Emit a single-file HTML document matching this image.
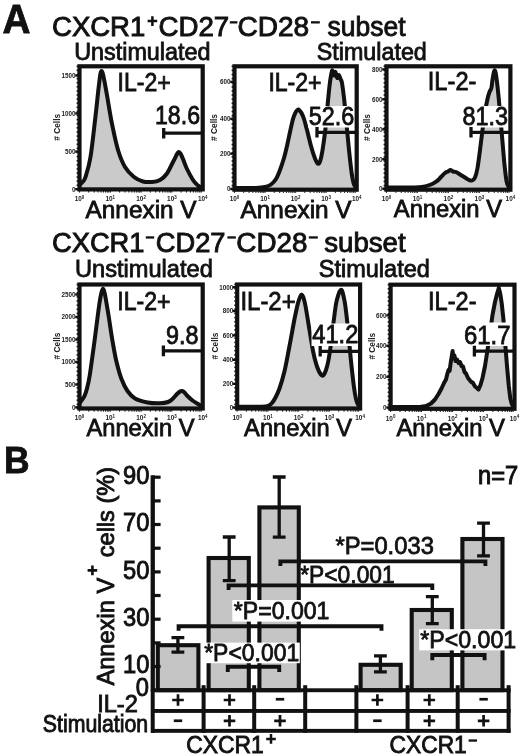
<!DOCTYPE html>
<html><head><meta charset="utf-8"><title>Figure</title>
<style>
html,body{margin:0;padding:0;background:#fff;}
body{width:520px;height:756px;overflow:hidden;}
svg{display:block;will-change:transform;font-family:"Liberation Sans",sans-serif;fill:#111;}
</style></head><body>
<svg width="520" height="756" viewBox="0 0 520 756">
<rect x="0" y="0" width="520" height="756" fill="#fff"/>

<text x="2.6" y="33.2" font-size="40.00" text-anchor="start" font-weight="bold" textLength="28.0" lengthAdjust="spacingAndGlyphs" stroke="#111" stroke-width="0.80" >A</text>
<text x="4.0" y="472.8" font-size="36.50" text-anchor="start" font-weight="bold" textLength="25.6" lengthAdjust="spacingAndGlyphs" stroke="#111" stroke-width="0.80" >B</text>
<text x="52.0" y="36.4" font-size="27.00" text-anchor="start" font-weight="normal" textLength="93.3" lengthAdjust="spacingAndGlyphs" stroke="#111" stroke-width="0.90" >CXCR1</text>
<text x="158.5" y="36.4" font-size="27.00" text-anchor="start" font-weight="normal" textLength="70.7" lengthAdjust="spacingAndGlyphs" stroke="#111" stroke-width="0.90" >CD27</text>
<text x="237.5" y="36.4" font-size="27.00" text-anchor="start" font-weight="normal" textLength="71.7" lengthAdjust="spacingAndGlyphs" stroke="#111" stroke-width="0.90" >CD28</text>
<text x="327.5" y="36.4" font-size="27.00" text-anchor="start" font-weight="normal" textLength="78.0" lengthAdjust="spacingAndGlyphs" stroke="#111" stroke-width="0.90" >subset</text>
<path d="M147.6,21.1 H157.2 M152.4,16.3 V25.9" stroke="#111" stroke-width="2.5" fill="none"/>
<rect x="229.8" y="21.2" width="7.6" height="2.3" fill="#111"/>
<rect x="311.0" y="21.2" width="8.8" height="2.3" fill="#111"/>
<text x="52.0" y="251.5" font-size="27.00" text-anchor="start" font-weight="normal" textLength="92.5" lengthAdjust="spacingAndGlyphs" stroke="#111" stroke-width="0.90" >CXCR1</text>
<text x="155.8" y="251.5" font-size="27.00" text-anchor="start" font-weight="normal" textLength="69.7" lengthAdjust="spacingAndGlyphs" stroke="#111" stroke-width="0.90" >CD27</text>
<text x="236.3" y="251.5" font-size="27.00" text-anchor="start" font-weight="normal" textLength="71.1" lengthAdjust="spacingAndGlyphs" stroke="#111" stroke-width="0.90" >CD28</text>
<text x="324.3" y="251.5" font-size="27.00" text-anchor="start" font-weight="normal" textLength="81.3" lengthAdjust="spacingAndGlyphs" stroke="#111" stroke-width="0.90" >subset</text>
<rect x="145.8" y="236.3" width="8.4" height="2.3" fill="#111"/>
<rect x="227.4" y="236.3" width="8.4" height="2.3" fill="#111"/>
<rect x="308.8" y="236.3" width="9.0" height="2.3" fill="#111"/>
<text x="74.2" y="59.6" font-size="23.00" text-anchor="start" font-weight="normal" textLength="136.3" lengthAdjust="spacingAndGlyphs" stroke="#111" stroke-width="0.80" >Unstimulated</text>
<text x="316.8" y="59.8" font-size="23.00" text-anchor="start" font-weight="normal" textLength="110.0" lengthAdjust="spacingAndGlyphs" stroke="#111" stroke-width="0.80" >Stimulated</text>
<text x="75.0" y="276.9" font-size="23.00" text-anchor="start" font-weight="normal" textLength="137.8" lengthAdjust="spacingAndGlyphs" stroke="#111" stroke-width="0.80" >Unstimulated</text>
<text x="318.8" y="277.0" font-size="23.00" text-anchor="start" font-weight="normal" textLength="111.0" lengthAdjust="spacingAndGlyphs" stroke="#111" stroke-width="0.80" >Stimulated</text>
<path d="M80.5,184.0 C80.8,183.7 81.7,183.2 82.5,182.0 C83.3,180.8 84.2,181.2 85.5,177.0 C86.8,172.8 88.9,166.8 90.5,157.0 C92.1,147.2 93.9,129.8 95.3,118.0 C96.7,106.2 97.9,93.4 98.8,86.0 C99.7,78.6 100.0,76.0 100.5,73.5 C101.0,71.0 101.2,71.0 101.6,71.0 C102.0,71.0 102.3,71.7 102.8,73.5 C103.3,75.3 103.8,78.1 104.6,82.0 C105.3,85.9 106.1,90.0 107.3,97.0 C108.5,104.0 110.2,115.2 112.0,124.0 C113.8,132.8 115.8,142.8 118.0,150.0 C120.2,157.2 122.3,162.5 125.0,167.0 C127.7,171.5 131.0,174.6 134.0,177.0 C137.0,179.4 140.0,180.7 143.0,181.5 C146.0,182.3 149.2,182.2 152.0,182.0 C154.8,181.8 157.5,181.4 160.0,180.0 C162.5,178.6 164.8,176.5 167.0,173.5 C169.2,170.5 171.3,165.2 173.0,162.0 C174.7,158.8 176.1,155.7 177.0,154.0 C177.9,152.3 178.1,152.1 178.7,152.0 C179.3,151.9 179.8,152.3 180.5,153.5 C181.2,154.7 181.9,156.4 183.0,159.0 C184.1,161.6 185.3,165.5 187.0,169.0 C188.7,172.5 191.2,177.2 193.0,180.0 C194.8,182.8 196.6,184.2 198.0,185.5 C199.4,186.8 200.9,187.2 201.5,187.5 L201.5,189.4 L80.5,189.4 Z" fill="#cacaca" stroke="none"/>
<path d="M80.5,184.0 C80.8,183.7 81.7,183.2 82.5,182.0 C83.3,180.8 84.2,181.2 85.5,177.0 C86.8,172.8 88.9,166.8 90.5,157.0 C92.1,147.2 93.9,129.8 95.3,118.0 C96.7,106.2 97.9,93.4 98.8,86.0 C99.7,78.6 100.0,76.0 100.5,73.5 C101.0,71.0 101.2,71.0 101.6,71.0 C102.0,71.0 102.3,71.7 102.8,73.5 C103.3,75.3 103.8,78.1 104.6,82.0 C105.3,85.9 106.1,90.0 107.3,97.0 C108.5,104.0 110.2,115.2 112.0,124.0 C113.8,132.8 115.8,142.8 118.0,150.0 C120.2,157.2 122.3,162.5 125.0,167.0 C127.7,171.5 131.0,174.6 134.0,177.0 C137.0,179.4 140.0,180.7 143.0,181.5 C146.0,182.3 149.2,182.2 152.0,182.0 C154.8,181.8 157.5,181.4 160.0,180.0 C162.5,178.6 164.8,176.5 167.0,173.5 C169.2,170.5 171.3,165.2 173.0,162.0 C174.7,158.8 176.1,155.7 177.0,154.0 C177.9,152.3 178.1,152.1 178.7,152.0 C179.3,151.9 179.8,152.3 180.5,153.5 C181.2,154.7 181.9,156.4 183.0,159.0 C184.1,161.6 185.3,165.5 187.0,169.0 C188.7,172.5 191.2,177.2 193.0,180.0 C194.8,182.8 196.6,184.2 198.0,185.5 C199.4,186.8 200.9,187.2 201.5,187.5" fill="none" stroke="#111" stroke-width="4.0" stroke-linejoin="round" stroke-linecap="round"/>
<path d="M162.3,133.2 H202.7 M163.7,127.9 V138.5" stroke="#111" stroke-width="3.3" fill="none"/>
<rect x="79.50" y="66.30" width="123.20" height="123.10" fill="none" stroke="#111" stroke-width="4.2"/>
<rect x="76.6" y="65.5" width="1.4" height="1.6" fill="#111"/>
<rect x="76.6" y="69.6" width="1.4" height="1.6" fill="#111"/>
<rect x="76.6" y="73.7" width="1.4" height="1.6" fill="#111"/>
<rect x="76.6" y="77.8" width="1.4" height="1.6" fill="#111"/>
<rect x="76.6" y="81.9" width="1.4" height="1.6" fill="#111"/>
<rect x="76.6" y="86.0" width="1.4" height="1.6" fill="#111"/>
<rect x="76.6" y="90.1" width="1.4" height="1.6" fill="#111"/>
<rect x="76.6" y="94.2" width="1.4" height="1.6" fill="#111"/>
<rect x="76.6" y="98.3" width="1.4" height="1.6" fill="#111"/>
<rect x="76.6" y="102.4" width="1.4" height="1.6" fill="#111"/>
<rect x="76.6" y="106.5" width="1.4" height="1.6" fill="#111"/>
<rect x="76.6" y="110.6" width="1.4" height="1.6" fill="#111"/>
<rect x="76.6" y="114.7" width="1.4" height="1.6" fill="#111"/>
<rect x="76.6" y="118.8" width="1.4" height="1.6" fill="#111"/>
<rect x="76.6" y="122.9" width="1.4" height="1.6" fill="#111"/>
<rect x="76.6" y="127.0" width="1.4" height="1.6" fill="#111"/>
<rect x="76.6" y="131.2" width="1.4" height="1.6" fill="#111"/>
<rect x="76.6" y="135.3" width="1.4" height="1.6" fill="#111"/>
<rect x="76.6" y="139.4" width="1.4" height="1.6" fill="#111"/>
<rect x="76.6" y="143.5" width="1.4" height="1.6" fill="#111"/>
<rect x="76.6" y="147.6" width="1.4" height="1.6" fill="#111"/>
<rect x="76.6" y="151.7" width="1.4" height="1.6" fill="#111"/>
<rect x="76.6" y="155.8" width="1.4" height="1.6" fill="#111"/>
<rect x="76.6" y="159.9" width="1.4" height="1.6" fill="#111"/>
<rect x="76.6" y="164.0" width="1.4" height="1.6" fill="#111"/>
<rect x="76.6" y="168.1" width="1.4" height="1.6" fill="#111"/>
<rect x="76.6" y="172.2" width="1.4" height="1.6" fill="#111"/>
<rect x="76.6" y="176.3" width="1.4" height="1.6" fill="#111"/>
<rect x="76.6" y="180.4" width="1.4" height="1.6" fill="#111"/>
<rect x="76.6" y="184.5" width="1.4" height="1.6" fill="#111"/>
<rect x="76.6" y="188.6" width="1.4" height="1.6" fill="#111"/>
<rect x="79.0" y="191.1" width="1.1" height="1.4" fill="#111"/>
<rect x="88.2" y="191.1" width="1.1" height="1.4" fill="#111"/>
<rect x="93.6" y="191.1" width="1.1" height="1.4" fill="#111"/>
<rect x="97.5" y="191.1" width="1.1" height="1.4" fill="#111"/>
<rect x="100.5" y="191.1" width="1.1" height="1.4" fill="#111"/>
<rect x="102.9" y="191.1" width="1.1" height="1.4" fill="#111"/>
<rect x="105.0" y="191.1" width="1.1" height="1.4" fill="#111"/>
<rect x="106.8" y="191.1" width="1.1" height="1.4" fill="#111"/>
<rect x="108.3" y="191.1" width="1.1" height="1.4" fill="#111"/>
<rect x="109.8" y="191.1" width="1.1" height="1.4" fill="#111"/>
<rect x="119.0" y="191.1" width="1.1" height="1.4" fill="#111"/>
<rect x="124.4" y="191.1" width="1.1" height="1.4" fill="#111"/>
<rect x="128.3" y="191.1" width="1.1" height="1.4" fill="#111"/>
<rect x="131.3" y="191.1" width="1.1" height="1.4" fill="#111"/>
<rect x="133.7" y="191.1" width="1.1" height="1.4" fill="#111"/>
<rect x="135.8" y="191.1" width="1.1" height="1.4" fill="#111"/>
<rect x="137.6" y="191.1" width="1.1" height="1.4" fill="#111"/>
<rect x="139.1" y="191.1" width="1.1" height="1.4" fill="#111"/>
<rect x="140.6" y="191.1" width="1.1" height="1.4" fill="#111"/>
<rect x="149.8" y="191.1" width="1.1" height="1.4" fill="#111"/>
<rect x="155.2" y="191.1" width="1.1" height="1.4" fill="#111"/>
<rect x="159.1" y="191.1" width="1.1" height="1.4" fill="#111"/>
<rect x="162.1" y="191.1" width="1.1" height="1.4" fill="#111"/>
<rect x="164.5" y="191.1" width="1.1" height="1.4" fill="#111"/>
<rect x="166.6" y="191.1" width="1.1" height="1.4" fill="#111"/>
<rect x="168.4" y="191.1" width="1.1" height="1.4" fill="#111"/>
<rect x="169.9" y="191.1" width="1.1" height="1.4" fill="#111"/>
<rect x="171.3" y="191.1" width="1.1" height="1.4" fill="#111"/>
<rect x="180.6" y="191.1" width="1.1" height="1.4" fill="#111"/>
<rect x="186.0" y="191.1" width="1.1" height="1.4" fill="#111"/>
<rect x="189.9" y="191.1" width="1.1" height="1.4" fill="#111"/>
<rect x="192.9" y="191.1" width="1.1" height="1.4" fill="#111"/>
<rect x="195.3" y="191.1" width="1.1" height="1.4" fill="#111"/>
<rect x="197.4" y="191.1" width="1.1" height="1.4" fill="#111"/>
<rect x="199.2" y="191.1" width="1.1" height="1.4" fill="#111"/>
<rect x="200.7" y="191.1" width="1.1" height="1.4" fill="#111"/>
<rect x="75.2" y="74.3" width="3.2" height="2.4" fill="#111"/>
<text x="75.5" y="77.8" font-size="6.3" font-weight="bold" text-anchor="end" fill="#1a1a1a">1500</text>
<rect x="75.2" y="112.2" width="3.2" height="2.4" fill="#111"/>
<text x="75.5" y="115.7" font-size="6.3" font-weight="bold" text-anchor="end" fill="#1a1a1a">1000</text>
<rect x="75.2" y="150.4" width="3.2" height="2.4" fill="#111"/>
<text x="75.5" y="153.9" font-size="6.3" font-weight="bold" text-anchor="end" fill="#1a1a1a">500</text>
<rect x="75.2" y="188.0" width="3.2" height="2.4" fill="#111"/>
<text x="75.5" y="191.5" font-size="6.3" font-weight="bold" text-anchor="end" fill="#1a1a1a">0</text>
<text transform="translate(59.8,127.3) rotate(-90)" font-size="8.3" font-weight="bold" text-anchor="middle" fill="#1a1a1a">#&#160;Cells</text>
<text x="79.5" y="201.1" font-size="7.2" font-weight="bold" text-anchor="middle" fill="#1a1a1a" textLength="9.6" lengthAdjust="spacingAndGlyphs">10<tspan dy="-2.6" font-size="5">0</tspan></text>
<text x="110.3" y="201.1" font-size="7.2" font-weight="bold" text-anchor="middle" fill="#1a1a1a" textLength="9.6" lengthAdjust="spacingAndGlyphs">10<tspan dy="-2.6" font-size="5">1</tspan></text>
<text x="141.1" y="201.1" font-size="7.2" font-weight="bold" text-anchor="middle" fill="#1a1a1a" textLength="9.6" lengthAdjust="spacingAndGlyphs">10<tspan dy="-2.6" font-size="5">2</tspan></text>
<text x="171.9" y="201.1" font-size="7.2" font-weight="bold" text-anchor="middle" fill="#1a1a1a" textLength="9.6" lengthAdjust="spacingAndGlyphs">10<tspan dy="-2.6" font-size="5">3</tspan></text>
<text x="202.7" y="201.1" font-size="7.2" font-weight="bold" text-anchor="middle" fill="#1a1a1a" textLength="9.6" lengthAdjust="spacingAndGlyphs">10<tspan dy="-2.6" font-size="5">4</tspan></text>
<text x="117.5" y="91.2" font-size="25.20" text-anchor="start" font-weight="normal" textLength="53.2" lengthAdjust="spacingAndGlyphs" stroke="#111" stroke-width="0.80" >IL-2+</text>
<text x="155.0" y="123.7" font-size="25.00" text-anchor="start" font-weight="normal" textLength="45.0" lengthAdjust="spacingAndGlyphs" stroke="#111" stroke-width="0.80" >18.6</text>
<text x="85.6" y="217.8" font-size="23.00" text-anchor="start" font-weight="normal" textLength="111.0" lengthAdjust="spacingAndGlyphs" stroke="#111" stroke-width="0.80" >Annexin V</text>
<path d="M236.0,188.0 C239.3,188.0 251.2,188.2 256.0,188.0 C260.8,187.8 262.5,187.6 265.0,187.0 C267.5,186.4 269.2,185.8 271.0,184.5 C272.8,183.2 274.5,181.4 276.0,179.0 C277.5,176.6 278.7,173.5 280.0,170.0 C281.3,166.5 282.8,162.0 284.0,158.0 C285.2,154.0 286.0,150.3 287.0,146.0 C288.0,141.7 289.0,136.5 290.0,132.0 C291.0,127.5 292.1,122.2 293.0,119.0 C293.9,115.8 294.8,114.0 295.5,112.5 C296.2,111.0 296.7,110.8 297.2,110.3 C297.7,109.8 297.9,109.6 298.3,109.6 C298.7,109.6 298.9,109.7 299.4,110.3 C299.9,110.9 300.7,111.5 301.5,113.0 C302.3,114.5 303.1,116.2 304.0,119.0 C304.9,121.8 305.8,125.5 307.0,130.0 C308.2,134.5 309.7,141.2 311.0,146.0 C312.3,150.8 313.8,155.5 315.0,158.5 C316.2,161.5 317.1,163.6 318.0,163.8 C318.9,164.1 319.7,162.8 320.5,160.0 C321.3,157.2 322.2,152.3 323.0,147.0 C323.8,141.7 324.8,134.8 325.5,128.0 C326.2,121.2 326.8,113.0 327.5,106.0 C328.2,99.0 328.9,91.3 329.5,86.0 C330.1,80.7 330.8,76.6 331.3,74.0 C331.8,71.4 332.1,70.2 332.5,70.5 C332.9,70.8 333.5,75.2 334.0,75.5 C334.5,75.8 335.0,71.6 335.5,72.0 C336.0,72.4 336.6,77.5 337.2,78.0 C337.8,78.5 338.2,74.8 338.8,75.0 C339.4,75.2 340.0,77.7 340.5,79.0 C341.0,80.3 341.4,79.8 342.0,83.0 C342.6,86.2 343.2,91.2 344.0,98.0 C344.8,104.8 345.7,115.3 346.5,124.0 C347.3,132.7 348.2,142.0 349.0,150.0 C349.8,158.0 350.8,166.5 351.5,172.0 C352.2,177.5 352.8,180.3 353.5,183.0 C354.2,185.7 355.6,187.2 356.0,188.0 L356.0,189.7 L236.0,189.7 Z" fill="#cacaca" stroke="none"/>
<path d="M236.0,188.0 C239.3,188.0 251.2,188.2 256.0,188.0 C260.8,187.8 262.5,187.6 265.0,187.0 C267.5,186.4 269.2,185.8 271.0,184.5 C272.8,183.2 274.5,181.4 276.0,179.0 C277.5,176.6 278.7,173.5 280.0,170.0 C281.3,166.5 282.8,162.0 284.0,158.0 C285.2,154.0 286.0,150.3 287.0,146.0 C288.0,141.7 289.0,136.5 290.0,132.0 C291.0,127.5 292.1,122.2 293.0,119.0 C293.9,115.8 294.8,114.0 295.5,112.5 C296.2,111.0 296.7,110.8 297.2,110.3 C297.7,109.8 297.9,109.6 298.3,109.6 C298.7,109.6 298.9,109.7 299.4,110.3 C299.9,110.9 300.7,111.5 301.5,113.0 C302.3,114.5 303.1,116.2 304.0,119.0 C304.9,121.8 305.8,125.5 307.0,130.0 C308.2,134.5 309.7,141.2 311.0,146.0 C312.3,150.8 313.8,155.5 315.0,158.5 C316.2,161.5 317.1,163.6 318.0,163.8 C318.9,164.1 319.7,162.8 320.5,160.0 C321.3,157.2 322.2,152.3 323.0,147.0 C323.8,141.7 324.8,134.8 325.5,128.0 C326.2,121.2 326.8,113.0 327.5,106.0 C328.2,99.0 328.9,91.3 329.5,86.0 C330.1,80.7 330.8,76.6 331.3,74.0 C331.8,71.4 332.1,70.2 332.5,70.5 C332.9,70.8 333.5,75.2 334.0,75.5 C334.5,75.8 335.0,71.6 335.5,72.0 C336.0,72.4 336.6,77.5 337.2,78.0 C337.8,78.5 338.2,74.8 338.8,75.0 C339.4,75.2 340.0,77.7 340.5,79.0 C341.0,80.3 341.4,79.8 342.0,83.0 C342.6,86.2 343.2,91.2 344.0,98.0 C344.8,104.8 345.7,115.3 346.5,124.0 C347.3,132.7 348.2,142.0 349.0,150.0 C349.8,158.0 350.8,166.5 351.5,172.0 C352.2,177.5 352.8,180.3 353.5,183.0 C354.2,185.7 355.6,187.2 356.0,188.0" fill="none" stroke="#111" stroke-width="4.0" stroke-linejoin="round" stroke-linecap="round"/>
<rect x="308.0" y="106.0" width="47.0" height="21.5" fill="#fff"/>
<path d="M315.6,132.3 H356.7 M317.0,127.0 V137.6" stroke="#111" stroke-width="3.3" fill="none"/>
<rect x="234.50" y="66.30" width="122.20" height="123.40" fill="none" stroke="#111" stroke-width="4.2"/>
<rect x="231.6" y="65.5" width="1.4" height="1.6" fill="#111"/>
<rect x="231.6" y="69.6" width="1.4" height="1.6" fill="#111"/>
<rect x="231.6" y="73.7" width="1.4" height="1.6" fill="#111"/>
<rect x="231.6" y="77.8" width="1.4" height="1.6" fill="#111"/>
<rect x="231.6" y="82.0" width="1.4" height="1.6" fill="#111"/>
<rect x="231.6" y="86.1" width="1.4" height="1.6" fill="#111"/>
<rect x="231.6" y="90.2" width="1.4" height="1.6" fill="#111"/>
<rect x="231.6" y="94.3" width="1.4" height="1.6" fill="#111"/>
<rect x="231.6" y="98.4" width="1.4" height="1.6" fill="#111"/>
<rect x="231.6" y="102.5" width="1.4" height="1.6" fill="#111"/>
<rect x="231.6" y="106.6" width="1.4" height="1.6" fill="#111"/>
<rect x="231.6" y="110.7" width="1.4" height="1.6" fill="#111"/>
<rect x="231.6" y="114.9" width="1.4" height="1.6" fill="#111"/>
<rect x="231.6" y="119.0" width="1.4" height="1.6" fill="#111"/>
<rect x="231.6" y="123.1" width="1.4" height="1.6" fill="#111"/>
<rect x="231.6" y="127.2" width="1.4" height="1.6" fill="#111"/>
<rect x="231.6" y="131.3" width="1.4" height="1.6" fill="#111"/>
<rect x="231.6" y="135.4" width="1.4" height="1.6" fill="#111"/>
<rect x="231.6" y="139.5" width="1.4" height="1.6" fill="#111"/>
<rect x="231.6" y="143.7" width="1.4" height="1.6" fill="#111"/>
<rect x="231.6" y="147.8" width="1.4" height="1.6" fill="#111"/>
<rect x="231.6" y="151.9" width="1.4" height="1.6" fill="#111"/>
<rect x="231.6" y="156.0" width="1.4" height="1.6" fill="#111"/>
<rect x="231.6" y="160.1" width="1.4" height="1.6" fill="#111"/>
<rect x="231.6" y="164.2" width="1.4" height="1.6" fill="#111"/>
<rect x="231.6" y="168.3" width="1.4" height="1.6" fill="#111"/>
<rect x="231.6" y="172.4" width="1.4" height="1.6" fill="#111"/>
<rect x="231.6" y="176.6" width="1.4" height="1.6" fill="#111"/>
<rect x="231.6" y="180.7" width="1.4" height="1.6" fill="#111"/>
<rect x="231.6" y="184.8" width="1.4" height="1.6" fill="#111"/>
<rect x="231.6" y="188.9" width="1.4" height="1.6" fill="#111"/>
<rect x="233.9" y="191.4" width="1.1" height="1.4" fill="#111"/>
<rect x="243.1" y="191.4" width="1.1" height="1.4" fill="#111"/>
<rect x="248.5" y="191.4" width="1.1" height="1.4" fill="#111"/>
<rect x="252.3" y="191.4" width="1.1" height="1.4" fill="#111"/>
<rect x="255.3" y="191.4" width="1.1" height="1.4" fill="#111"/>
<rect x="257.7" y="191.4" width="1.1" height="1.4" fill="#111"/>
<rect x="259.8" y="191.4" width="1.1" height="1.4" fill="#111"/>
<rect x="261.5" y="191.4" width="1.1" height="1.4" fill="#111"/>
<rect x="263.1" y="191.4" width="1.1" height="1.4" fill="#111"/>
<rect x="264.5" y="191.4" width="1.1" height="1.4" fill="#111"/>
<rect x="273.7" y="191.4" width="1.1" height="1.4" fill="#111"/>
<rect x="279.1" y="191.4" width="1.1" height="1.4" fill="#111"/>
<rect x="282.9" y="191.4" width="1.1" height="1.4" fill="#111"/>
<rect x="285.9" y="191.4" width="1.1" height="1.4" fill="#111"/>
<rect x="288.3" y="191.4" width="1.1" height="1.4" fill="#111"/>
<rect x="290.3" y="191.4" width="1.1" height="1.4" fill="#111"/>
<rect x="292.1" y="191.4" width="1.1" height="1.4" fill="#111"/>
<rect x="293.7" y="191.4" width="1.1" height="1.4" fill="#111"/>
<rect x="295.1" y="191.4" width="1.1" height="1.4" fill="#111"/>
<rect x="304.2" y="191.4" width="1.1" height="1.4" fill="#111"/>
<rect x="309.6" y="191.4" width="1.1" height="1.4" fill="#111"/>
<rect x="313.4" y="191.4" width="1.1" height="1.4" fill="#111"/>
<rect x="316.4" y="191.4" width="1.1" height="1.4" fill="#111"/>
<rect x="318.8" y="191.4" width="1.1" height="1.4" fill="#111"/>
<rect x="320.9" y="191.4" width="1.1" height="1.4" fill="#111"/>
<rect x="322.6" y="191.4" width="1.1" height="1.4" fill="#111"/>
<rect x="324.2" y="191.4" width="1.1" height="1.4" fill="#111"/>
<rect x="325.6" y="191.4" width="1.1" height="1.4" fill="#111"/>
<rect x="334.8" y="191.4" width="1.1" height="1.4" fill="#111"/>
<rect x="340.2" y="191.4" width="1.1" height="1.4" fill="#111"/>
<rect x="344.0" y="191.4" width="1.1" height="1.4" fill="#111"/>
<rect x="347.0" y="191.4" width="1.1" height="1.4" fill="#111"/>
<rect x="349.4" y="191.4" width="1.1" height="1.4" fill="#111"/>
<rect x="351.4" y="191.4" width="1.1" height="1.4" fill="#111"/>
<rect x="353.2" y="191.4" width="1.1" height="1.4" fill="#111"/>
<rect x="354.8" y="191.4" width="1.1" height="1.4" fill="#111"/>
<rect x="230.2" y="80.7" width="3.2" height="2.4" fill="#111"/>
<text x="230.5" y="84.2" font-size="6.3" font-weight="bold" text-anchor="end" fill="#1a1a1a">600</text>
<rect x="230.2" y="117.6" width="3.2" height="2.4" fill="#111"/>
<text x="230.5" y="121.1" font-size="6.3" font-weight="bold" text-anchor="end" fill="#1a1a1a">400</text>
<rect x="230.2" y="152.5" width="3.2" height="2.4" fill="#111"/>
<text x="230.5" y="156.0" font-size="6.3" font-weight="bold" text-anchor="end" fill="#1a1a1a">200</text>
<rect x="230.2" y="187.7" width="3.2" height="2.4" fill="#111"/>
<text x="230.5" y="191.2" font-size="6.3" font-weight="bold" text-anchor="end" fill="#1a1a1a">0</text>
<text transform="translate(217.0,127.5) rotate(-90)" font-size="8.3" font-weight="bold" text-anchor="middle" fill="#1a1a1a">#&#160;Cells</text>
<text x="234.5" y="201.4" font-size="7.2" font-weight="bold" text-anchor="middle" fill="#1a1a1a" textLength="9.6" lengthAdjust="spacingAndGlyphs">10<tspan dy="-2.6" font-size="5">0</tspan></text>
<text x="265.1" y="201.4" font-size="7.2" font-weight="bold" text-anchor="middle" fill="#1a1a1a" textLength="9.6" lengthAdjust="spacingAndGlyphs">10<tspan dy="-2.6" font-size="5">1</tspan></text>
<text x="295.6" y="201.4" font-size="7.2" font-weight="bold" text-anchor="middle" fill="#1a1a1a" textLength="9.6" lengthAdjust="spacingAndGlyphs">10<tspan dy="-2.6" font-size="5">2</tspan></text>
<text x="326.1" y="201.4" font-size="7.2" font-weight="bold" text-anchor="middle" fill="#1a1a1a" textLength="9.6" lengthAdjust="spacingAndGlyphs">10<tspan dy="-2.6" font-size="5">3</tspan></text>
<text x="356.7" y="201.4" font-size="7.2" font-weight="bold" text-anchor="middle" fill="#1a1a1a" textLength="9.6" lengthAdjust="spacingAndGlyphs">10<tspan dy="-2.6" font-size="5">4</tspan></text>
<text x="268.4" y="91.2" font-size="25.20" text-anchor="start" font-weight="normal" textLength="53.2" lengthAdjust="spacingAndGlyphs" stroke="#111" stroke-width="0.80" >IL-2+</text>
<text x="308.8" y="124.6" font-size="25.00" text-anchor="start" font-weight="normal" textLength="45.5" lengthAdjust="spacingAndGlyphs" stroke="#111" stroke-width="0.80" >52.6</text>
<text x="240.6" y="217.8" font-size="23.00" text-anchor="start" font-weight="normal" textLength="111.0" lengthAdjust="spacingAndGlyphs" stroke="#111" stroke-width="0.80" >Annexin V</text>
<path d="M388.0,187.5 C392.0,187.5 406.3,187.6 412.0,187.5 C417.7,187.4 418.8,187.5 422.0,187.0 C425.2,186.5 428.5,185.5 431.0,184.5 C433.5,183.5 435.3,182.2 437.0,181.0 C438.7,179.8 439.7,178.3 441.0,177.0 C442.3,175.7 443.8,173.9 445.0,173.0 C446.2,172.1 447.1,172.0 448.0,171.5 C448.9,171.0 449.7,170.0 450.5,170.0 C451.3,170.0 452.1,171.2 453.0,171.5 C453.9,171.8 454.8,171.5 456.0,172.0 C457.2,172.5 458.5,173.6 460.0,174.5 C461.5,175.4 463.5,176.6 465.0,177.5 C466.5,178.4 467.8,179.5 469.0,180.0 C470.2,180.5 471.0,180.9 472.0,180.5 C473.0,180.1 474.1,179.6 475.0,177.5 C475.9,175.4 476.7,172.6 477.5,168.0 C478.3,163.4 479.2,156.3 480.0,150.0 C480.8,143.7 481.7,136.3 482.5,130.0 C483.3,123.7 484.2,117.2 485.0,112.0 C485.8,106.8 486.8,102.3 487.5,99.0 C488.2,95.7 488.9,93.6 489.5,92.0 C490.1,90.4 490.4,90.3 490.8,89.5 C491.2,88.7 491.3,88.8 491.6,87.0 C491.9,85.2 492.2,81.4 492.6,79.0 C493.0,76.6 493.5,74.0 493.8,72.5 C494.1,71.0 494.4,70.2 494.7,70.2 C495.0,70.2 495.2,70.5 495.6,72.5 C496.0,74.5 496.5,77.8 497.0,82.0 C497.5,86.2 498.1,92.0 498.7,98.0 C499.3,104.0 499.9,110.7 500.5,118.0 C501.1,125.3 501.8,134.2 502.5,142.0 C503.2,149.8 503.8,158.5 504.5,165.0 C505.2,171.5 505.8,177.4 506.5,181.0 C507.2,184.6 507.9,185.4 508.5,186.5 C509.1,187.6 509.8,187.3 510.0,187.5 L510.0,189.7 L388.0,189.7 Z" fill="#cacaca" stroke="none"/>
<path d="M388.0,187.5 C392.0,187.5 406.3,187.6 412.0,187.5 C417.7,187.4 418.8,187.5 422.0,187.0 C425.2,186.5 428.5,185.5 431.0,184.5 C433.5,183.5 435.3,182.2 437.0,181.0 C438.7,179.8 439.7,178.3 441.0,177.0 C442.3,175.7 443.8,173.9 445.0,173.0 C446.2,172.1 447.1,172.0 448.0,171.5 C448.9,171.0 449.7,170.0 450.5,170.0 C451.3,170.0 452.1,171.2 453.0,171.5 C453.9,171.8 454.8,171.5 456.0,172.0 C457.2,172.5 458.5,173.6 460.0,174.5 C461.5,175.4 463.5,176.6 465.0,177.5 C466.5,178.4 467.8,179.5 469.0,180.0 C470.2,180.5 471.0,180.9 472.0,180.5 C473.0,180.1 474.1,179.6 475.0,177.5 C475.9,175.4 476.7,172.6 477.5,168.0 C478.3,163.4 479.2,156.3 480.0,150.0 C480.8,143.7 481.7,136.3 482.5,130.0 C483.3,123.7 484.2,117.2 485.0,112.0 C485.8,106.8 486.8,102.3 487.5,99.0 C488.2,95.7 488.9,93.6 489.5,92.0 C490.1,90.4 490.4,90.3 490.8,89.5 C491.2,88.7 491.3,88.8 491.6,87.0 C491.9,85.2 492.2,81.4 492.6,79.0 C493.0,76.6 493.5,74.0 493.8,72.5 C494.1,71.0 494.4,70.2 494.7,70.2 C495.0,70.2 495.2,70.5 495.6,72.5 C496.0,74.5 496.5,77.8 497.0,82.0 C497.5,86.2 498.1,92.0 498.7,98.0 C499.3,104.0 499.9,110.7 500.5,118.0 C501.1,125.3 501.8,134.2 502.5,142.0 C503.2,149.8 503.8,158.5 504.5,165.0 C505.2,171.5 505.8,177.4 506.5,181.0 C507.2,184.6 507.9,185.4 508.5,186.5 C509.1,187.6 509.8,187.3 510.0,187.5" fill="none" stroke="#111" stroke-width="4.0" stroke-linejoin="round" stroke-linecap="round"/>
<rect x="461.5" y="106.0" width="47.5" height="21.5" fill="#fff"/>
<path d="M469.6,132.3 H510.4 M471.0,127.0 V137.6" stroke="#111" stroke-width="3.3" fill="none"/>
<rect x="386.50" y="66.30" width="123.90" height="123.40" fill="none" stroke="#111" stroke-width="4.2"/>
<rect x="383.6" y="65.5" width="1.4" height="1.6" fill="#111"/>
<rect x="383.6" y="69.6" width="1.4" height="1.6" fill="#111"/>
<rect x="383.6" y="73.7" width="1.4" height="1.6" fill="#111"/>
<rect x="383.6" y="77.8" width="1.4" height="1.6" fill="#111"/>
<rect x="383.6" y="82.0" width="1.4" height="1.6" fill="#111"/>
<rect x="383.6" y="86.1" width="1.4" height="1.6" fill="#111"/>
<rect x="383.6" y="90.2" width="1.4" height="1.6" fill="#111"/>
<rect x="383.6" y="94.3" width="1.4" height="1.6" fill="#111"/>
<rect x="383.6" y="98.4" width="1.4" height="1.6" fill="#111"/>
<rect x="383.6" y="102.5" width="1.4" height="1.6" fill="#111"/>
<rect x="383.6" y="106.6" width="1.4" height="1.6" fill="#111"/>
<rect x="383.6" y="110.7" width="1.4" height="1.6" fill="#111"/>
<rect x="383.6" y="114.9" width="1.4" height="1.6" fill="#111"/>
<rect x="383.6" y="119.0" width="1.4" height="1.6" fill="#111"/>
<rect x="383.6" y="123.1" width="1.4" height="1.6" fill="#111"/>
<rect x="383.6" y="127.2" width="1.4" height="1.6" fill="#111"/>
<rect x="383.6" y="131.3" width="1.4" height="1.6" fill="#111"/>
<rect x="383.6" y="135.4" width="1.4" height="1.6" fill="#111"/>
<rect x="383.6" y="139.5" width="1.4" height="1.6" fill="#111"/>
<rect x="383.6" y="143.7" width="1.4" height="1.6" fill="#111"/>
<rect x="383.6" y="147.8" width="1.4" height="1.6" fill="#111"/>
<rect x="383.6" y="151.9" width="1.4" height="1.6" fill="#111"/>
<rect x="383.6" y="156.0" width="1.4" height="1.6" fill="#111"/>
<rect x="383.6" y="160.1" width="1.4" height="1.6" fill="#111"/>
<rect x="383.6" y="164.2" width="1.4" height="1.6" fill="#111"/>
<rect x="383.6" y="168.3" width="1.4" height="1.6" fill="#111"/>
<rect x="383.6" y="172.4" width="1.4" height="1.6" fill="#111"/>
<rect x="383.6" y="176.6" width="1.4" height="1.6" fill="#111"/>
<rect x="383.6" y="180.7" width="1.4" height="1.6" fill="#111"/>
<rect x="383.6" y="184.8" width="1.4" height="1.6" fill="#111"/>
<rect x="383.6" y="188.9" width="1.4" height="1.6" fill="#111"/>
<rect x="385.9" y="191.4" width="1.1" height="1.4" fill="#111"/>
<rect x="395.3" y="191.4" width="1.1" height="1.4" fill="#111"/>
<rect x="400.7" y="191.4" width="1.1" height="1.4" fill="#111"/>
<rect x="404.6" y="191.4" width="1.1" height="1.4" fill="#111"/>
<rect x="407.6" y="191.4" width="1.1" height="1.4" fill="#111"/>
<rect x="410.1" y="191.4" width="1.1" height="1.4" fill="#111"/>
<rect x="412.1" y="191.4" width="1.1" height="1.4" fill="#111"/>
<rect x="413.9" y="191.4" width="1.1" height="1.4" fill="#111"/>
<rect x="415.5" y="191.4" width="1.1" height="1.4" fill="#111"/>
<rect x="416.9" y="191.4" width="1.1" height="1.4" fill="#111"/>
<rect x="426.2" y="191.4" width="1.1" height="1.4" fill="#111"/>
<rect x="431.7" y="191.4" width="1.1" height="1.4" fill="#111"/>
<rect x="435.6" y="191.4" width="1.1" height="1.4" fill="#111"/>
<rect x="438.6" y="191.4" width="1.1" height="1.4" fill="#111"/>
<rect x="441.0" y="191.4" width="1.1" height="1.4" fill="#111"/>
<rect x="443.1" y="191.4" width="1.1" height="1.4" fill="#111"/>
<rect x="444.9" y="191.4" width="1.1" height="1.4" fill="#111"/>
<rect x="446.5" y="191.4" width="1.1" height="1.4" fill="#111"/>
<rect x="447.9" y="191.4" width="1.1" height="1.4" fill="#111"/>
<rect x="457.2" y="191.4" width="1.1" height="1.4" fill="#111"/>
<rect x="462.7" y="191.4" width="1.1" height="1.4" fill="#111"/>
<rect x="466.5" y="191.4" width="1.1" height="1.4" fill="#111"/>
<rect x="469.6" y="191.4" width="1.1" height="1.4" fill="#111"/>
<rect x="472.0" y="191.4" width="1.1" height="1.4" fill="#111"/>
<rect x="474.1" y="191.4" width="1.1" height="1.4" fill="#111"/>
<rect x="475.9" y="191.4" width="1.1" height="1.4" fill="#111"/>
<rect x="477.5" y="191.4" width="1.1" height="1.4" fill="#111"/>
<rect x="478.9" y="191.4" width="1.1" height="1.4" fill="#111"/>
<rect x="488.2" y="191.4" width="1.1" height="1.4" fill="#111"/>
<rect x="493.7" y="191.4" width="1.1" height="1.4" fill="#111"/>
<rect x="497.5" y="191.4" width="1.1" height="1.4" fill="#111"/>
<rect x="500.5" y="191.4" width="1.1" height="1.4" fill="#111"/>
<rect x="503.0" y="191.4" width="1.1" height="1.4" fill="#111"/>
<rect x="505.1" y="191.4" width="1.1" height="1.4" fill="#111"/>
<rect x="506.8" y="191.4" width="1.1" height="1.4" fill="#111"/>
<rect x="508.4" y="191.4" width="1.1" height="1.4" fill="#111"/>
<rect x="382.2" y="68.2" width="3.2" height="2.4" fill="#111"/>
<text x="382.5" y="71.7" font-size="6.3" font-weight="bold" text-anchor="end" fill="#1a1a1a">800</text>
<rect x="382.2" y="98.1" width="3.2" height="2.4" fill="#111"/>
<text x="382.5" y="101.6" font-size="6.3" font-weight="bold" text-anchor="end" fill="#1a1a1a">600</text>
<rect x="382.2" y="128.1" width="3.2" height="2.4" fill="#111"/>
<text x="382.5" y="131.6" font-size="6.3" font-weight="bold" text-anchor="end" fill="#1a1a1a">400</text>
<rect x="382.2" y="158.0" width="3.2" height="2.4" fill="#111"/>
<text x="382.5" y="161.5" font-size="6.3" font-weight="bold" text-anchor="end" fill="#1a1a1a">200</text>
<rect x="382.2" y="187.5" width="3.2" height="2.4" fill="#111"/>
<text x="382.5" y="191.0" font-size="6.3" font-weight="bold" text-anchor="end" fill="#1a1a1a">0</text>
<text transform="translate(370.4,127.5) rotate(-90)" font-size="8.3" font-weight="bold" text-anchor="middle" fill="#1a1a1a">#&#160;Cells</text>
<text x="386.5" y="201.4" font-size="7.2" font-weight="bold" text-anchor="middle" fill="#1a1a1a" textLength="9.6" lengthAdjust="spacingAndGlyphs">10<tspan dy="-2.6" font-size="5">0</tspan></text>
<text x="417.5" y="201.4" font-size="7.2" font-weight="bold" text-anchor="middle" fill="#1a1a1a" textLength="9.6" lengthAdjust="spacingAndGlyphs">10<tspan dy="-2.6" font-size="5">1</tspan></text>
<text x="448.4" y="201.4" font-size="7.2" font-weight="bold" text-anchor="middle" fill="#1a1a1a" textLength="9.6" lengthAdjust="spacingAndGlyphs">10<tspan dy="-2.6" font-size="5">2</tspan></text>
<text x="479.4" y="201.4" font-size="7.2" font-weight="bold" text-anchor="middle" fill="#1a1a1a" textLength="9.6" lengthAdjust="spacingAndGlyphs">10<tspan dy="-2.6" font-size="5">3</tspan></text>
<text x="510.4" y="201.4" font-size="7.2" font-weight="bold" text-anchor="middle" fill="#1a1a1a" textLength="9.6" lengthAdjust="spacingAndGlyphs">10<tspan dy="-2.6" font-size="5">4</tspan></text>
<text x="427.8" y="90.2" font-size="25.20" text-anchor="start" font-weight="normal" textLength="48.6" lengthAdjust="spacingAndGlyphs" stroke="#111" stroke-width="0.80" >IL-2-</text>
<text x="462.6" y="124.6" font-size="25.00" text-anchor="start" font-weight="normal" textLength="45.5" lengthAdjust="spacingAndGlyphs" stroke="#111" stroke-width="0.80" >81.3</text>
<text x="393.8" y="217.2" font-size="23.00" text-anchor="start" font-weight="normal" textLength="108.2" lengthAdjust="spacingAndGlyphs" stroke="#111" stroke-width="0.80" >Annexin V</text>
<path d="M80.5,402.0 C80.8,401.6 81.5,400.5 82.2,399.5 C82.9,398.5 83.7,397.8 84.5,396.0 C85.3,394.2 86.1,392.0 87.0,388.5 C87.9,385.0 88.8,381.4 89.8,375.0 C90.8,368.6 92.1,358.5 93.3,350.0 C94.5,341.5 95.7,331.8 96.7,324.0 C97.7,316.2 98.7,308.3 99.5,303.0 C100.3,297.7 101.0,294.4 101.6,292.0 C102.2,289.6 102.5,288.7 103.0,288.7 C103.5,288.7 103.9,289.8 104.4,292.0 C105.0,294.2 105.6,297.8 106.3,302.0 C107.0,306.2 107.8,310.5 108.8,317.0 C109.8,323.5 111.2,333.7 112.5,341.0 C113.8,348.3 114.8,354.8 116.3,361.0 C117.8,367.2 119.4,373.5 121.3,378.5 C123.2,383.5 125.2,387.7 127.5,391.0 C129.8,394.3 131.7,396.6 135.0,398.5 C138.3,400.4 143.3,401.7 147.5,402.5 C151.7,403.3 156.6,403.4 160.0,403.3 C163.4,403.2 165.8,402.8 168.0,402.0 C170.2,401.2 171.5,399.8 173.0,398.5 C174.5,397.2 175.8,395.2 177.0,394.0 C178.2,392.8 179.2,392.0 180.0,391.5 C180.8,391.0 181.3,390.9 182.0,391.0 C182.7,391.1 183.1,391.2 184.0,392.0 C184.9,392.8 186.1,394.6 187.5,396.0 C188.9,397.4 190.8,399.2 192.5,400.5 C194.2,401.8 196.5,403.1 198.0,404.0 C199.5,404.9 200.9,405.7 201.5,406.0 L201.5,408.5 L80.5,408.5 Z" fill="#cacaca" stroke="none"/>
<path d="M80.5,402.0 C80.8,401.6 81.5,400.5 82.2,399.5 C82.9,398.5 83.7,397.8 84.5,396.0 C85.3,394.2 86.1,392.0 87.0,388.5 C87.9,385.0 88.8,381.4 89.8,375.0 C90.8,368.6 92.1,358.5 93.3,350.0 C94.5,341.5 95.7,331.8 96.7,324.0 C97.7,316.2 98.7,308.3 99.5,303.0 C100.3,297.7 101.0,294.4 101.6,292.0 C102.2,289.6 102.5,288.7 103.0,288.7 C103.5,288.7 103.9,289.8 104.4,292.0 C105.0,294.2 105.6,297.8 106.3,302.0 C107.0,306.2 107.8,310.5 108.8,317.0 C109.8,323.5 111.2,333.7 112.5,341.0 C113.8,348.3 114.8,354.8 116.3,361.0 C117.8,367.2 119.4,373.5 121.3,378.5 C123.2,383.5 125.2,387.7 127.5,391.0 C129.8,394.3 131.7,396.6 135.0,398.5 C138.3,400.4 143.3,401.7 147.5,402.5 C151.7,403.3 156.6,403.4 160.0,403.3 C163.4,403.2 165.8,402.8 168.0,402.0 C170.2,401.2 171.5,399.8 173.0,398.5 C174.5,397.2 175.8,395.2 177.0,394.0 C178.2,392.8 179.2,392.0 180.0,391.5 C180.8,391.0 181.3,390.9 182.0,391.0 C182.7,391.1 183.1,391.2 184.0,392.0 C184.9,392.8 186.1,394.6 187.5,396.0 C188.9,397.4 190.8,399.2 192.5,400.5 C194.2,401.8 196.5,403.1 198.0,404.0 C199.5,404.9 200.9,405.7 201.5,406.0" fill="none" stroke="#111" stroke-width="4.0" stroke-linejoin="round" stroke-linecap="round"/>
<path d="M162.0,350.9 H202.7 M163.4,345.6 V356.2" stroke="#111" stroke-width="3.3" fill="none"/>
<rect x="79.50" y="284.50" width="123.20" height="124.00" fill="none" stroke="#111" stroke-width="4.2"/>
<rect x="76.6" y="283.7" width="1.4" height="1.6" fill="#111"/>
<rect x="76.6" y="287.8" width="1.4" height="1.6" fill="#111"/>
<rect x="76.6" y="292.0" width="1.4" height="1.6" fill="#111"/>
<rect x="76.6" y="296.1" width="1.4" height="1.6" fill="#111"/>
<rect x="76.6" y="300.2" width="1.4" height="1.6" fill="#111"/>
<rect x="76.6" y="304.4" width="1.4" height="1.6" fill="#111"/>
<rect x="76.6" y="308.5" width="1.4" height="1.6" fill="#111"/>
<rect x="76.6" y="312.6" width="1.4" height="1.6" fill="#111"/>
<rect x="76.6" y="316.8" width="1.4" height="1.6" fill="#111"/>
<rect x="76.6" y="320.9" width="1.4" height="1.6" fill="#111"/>
<rect x="76.6" y="325.0" width="1.4" height="1.6" fill="#111"/>
<rect x="76.6" y="329.2" width="1.4" height="1.6" fill="#111"/>
<rect x="76.6" y="333.3" width="1.4" height="1.6" fill="#111"/>
<rect x="76.6" y="337.4" width="1.4" height="1.6" fill="#111"/>
<rect x="76.6" y="341.6" width="1.4" height="1.6" fill="#111"/>
<rect x="76.6" y="345.7" width="1.4" height="1.6" fill="#111"/>
<rect x="76.6" y="349.8" width="1.4" height="1.6" fill="#111"/>
<rect x="76.6" y="354.0" width="1.4" height="1.6" fill="#111"/>
<rect x="76.6" y="358.1" width="1.4" height="1.6" fill="#111"/>
<rect x="76.6" y="362.2" width="1.4" height="1.6" fill="#111"/>
<rect x="76.6" y="366.4" width="1.4" height="1.6" fill="#111"/>
<rect x="76.6" y="370.5" width="1.4" height="1.6" fill="#111"/>
<rect x="76.6" y="374.6" width="1.4" height="1.6" fill="#111"/>
<rect x="76.6" y="378.8" width="1.4" height="1.6" fill="#111"/>
<rect x="76.6" y="382.9" width="1.4" height="1.6" fill="#111"/>
<rect x="76.6" y="387.0" width="1.4" height="1.6" fill="#111"/>
<rect x="76.6" y="391.2" width="1.4" height="1.6" fill="#111"/>
<rect x="76.6" y="395.3" width="1.4" height="1.6" fill="#111"/>
<rect x="76.6" y="399.4" width="1.4" height="1.6" fill="#111"/>
<rect x="76.6" y="403.6" width="1.4" height="1.6" fill="#111"/>
<rect x="76.6" y="407.7" width="1.4" height="1.6" fill="#111"/>
<rect x="79.0" y="410.2" width="1.1" height="1.4" fill="#111"/>
<rect x="88.2" y="410.2" width="1.1" height="1.4" fill="#111"/>
<rect x="93.6" y="410.2" width="1.1" height="1.4" fill="#111"/>
<rect x="97.5" y="410.2" width="1.1" height="1.4" fill="#111"/>
<rect x="100.5" y="410.2" width="1.1" height="1.4" fill="#111"/>
<rect x="102.9" y="410.2" width="1.1" height="1.4" fill="#111"/>
<rect x="105.0" y="410.2" width="1.1" height="1.4" fill="#111"/>
<rect x="106.8" y="410.2" width="1.1" height="1.4" fill="#111"/>
<rect x="108.3" y="410.2" width="1.1" height="1.4" fill="#111"/>
<rect x="109.8" y="410.2" width="1.1" height="1.4" fill="#111"/>
<rect x="119.0" y="410.2" width="1.1" height="1.4" fill="#111"/>
<rect x="124.4" y="410.2" width="1.1" height="1.4" fill="#111"/>
<rect x="128.3" y="410.2" width="1.1" height="1.4" fill="#111"/>
<rect x="131.3" y="410.2" width="1.1" height="1.4" fill="#111"/>
<rect x="133.7" y="410.2" width="1.1" height="1.4" fill="#111"/>
<rect x="135.8" y="410.2" width="1.1" height="1.4" fill="#111"/>
<rect x="137.6" y="410.2" width="1.1" height="1.4" fill="#111"/>
<rect x="139.1" y="410.2" width="1.1" height="1.4" fill="#111"/>
<rect x="140.6" y="410.2" width="1.1" height="1.4" fill="#111"/>
<rect x="149.8" y="410.2" width="1.1" height="1.4" fill="#111"/>
<rect x="155.2" y="410.2" width="1.1" height="1.4" fill="#111"/>
<rect x="159.1" y="410.2" width="1.1" height="1.4" fill="#111"/>
<rect x="162.1" y="410.2" width="1.1" height="1.4" fill="#111"/>
<rect x="164.5" y="410.2" width="1.1" height="1.4" fill="#111"/>
<rect x="166.6" y="410.2" width="1.1" height="1.4" fill="#111"/>
<rect x="168.4" y="410.2" width="1.1" height="1.4" fill="#111"/>
<rect x="169.9" y="410.2" width="1.1" height="1.4" fill="#111"/>
<rect x="171.3" y="410.2" width="1.1" height="1.4" fill="#111"/>
<rect x="180.6" y="410.2" width="1.1" height="1.4" fill="#111"/>
<rect x="186.0" y="410.2" width="1.1" height="1.4" fill="#111"/>
<rect x="189.9" y="410.2" width="1.1" height="1.4" fill="#111"/>
<rect x="192.9" y="410.2" width="1.1" height="1.4" fill="#111"/>
<rect x="195.3" y="410.2" width="1.1" height="1.4" fill="#111"/>
<rect x="197.4" y="410.2" width="1.1" height="1.4" fill="#111"/>
<rect x="199.2" y="410.2" width="1.1" height="1.4" fill="#111"/>
<rect x="200.7" y="410.2" width="1.1" height="1.4" fill="#111"/>
<rect x="75.2" y="293.3" width="3.2" height="2.4" fill="#111"/>
<text x="75.5" y="296.8" font-size="6.3" font-weight="bold" text-anchor="end" fill="#1a1a1a">2500</text>
<rect x="75.2" y="315.8" width="3.2" height="2.4" fill="#111"/>
<text x="75.5" y="319.3" font-size="6.3" font-weight="bold" text-anchor="end" fill="#1a1a1a">2000</text>
<rect x="75.2" y="338.3" width="3.2" height="2.4" fill="#111"/>
<text x="75.5" y="341.8" font-size="6.3" font-weight="bold" text-anchor="end" fill="#1a1a1a">1500</text>
<rect x="75.2" y="360.8" width="3.2" height="2.4" fill="#111"/>
<text x="75.5" y="364.3" font-size="6.3" font-weight="bold" text-anchor="end" fill="#1a1a1a">1000</text>
<rect x="75.2" y="383.3" width="3.2" height="2.4" fill="#111"/>
<text x="75.5" y="386.8" font-size="6.3" font-weight="bold" text-anchor="end" fill="#1a1a1a">500</text>
<rect x="75.2" y="406.1" width="3.2" height="2.4" fill="#111"/>
<text x="75.5" y="409.6" font-size="6.3" font-weight="bold" text-anchor="end" fill="#1a1a1a">0</text>
<text transform="translate(60.4,346.0) rotate(-90)" font-size="8.3" font-weight="bold" text-anchor="middle" fill="#1a1a1a">#&#160;Cells</text>
<text x="79.5" y="420.2" font-size="7.2" font-weight="bold" text-anchor="middle" fill="#1a1a1a" textLength="9.6" lengthAdjust="spacingAndGlyphs">10<tspan dy="-2.6" font-size="5">0</tspan></text>
<text x="110.3" y="420.2" font-size="7.2" font-weight="bold" text-anchor="middle" fill="#1a1a1a" textLength="9.6" lengthAdjust="spacingAndGlyphs">10<tspan dy="-2.6" font-size="5">1</tspan></text>
<text x="141.1" y="420.2" font-size="7.2" font-weight="bold" text-anchor="middle" fill="#1a1a1a" textLength="9.6" lengthAdjust="spacingAndGlyphs">10<tspan dy="-2.6" font-size="5">2</tspan></text>
<text x="171.9" y="420.2" font-size="7.2" font-weight="bold" text-anchor="middle" fill="#1a1a1a" textLength="9.6" lengthAdjust="spacingAndGlyphs">10<tspan dy="-2.6" font-size="5">3</tspan></text>
<text x="202.7" y="420.2" font-size="7.2" font-weight="bold" text-anchor="middle" fill="#1a1a1a" textLength="9.6" lengthAdjust="spacingAndGlyphs">10<tspan dy="-2.6" font-size="5">4</tspan></text>
<text x="117.3" y="310.4" font-size="25.20" text-anchor="start" font-weight="normal" textLength="53.2" lengthAdjust="spacingAndGlyphs" stroke="#111" stroke-width="0.80" >IL-2+</text>
<text x="166.0" y="343.6" font-size="25.00" text-anchor="start" font-weight="normal" textLength="32.5" lengthAdjust="spacingAndGlyphs" stroke="#111" stroke-width="0.80" >9.8</text>
<text x="86.4" y="436.3" font-size="23.00" text-anchor="start" font-weight="normal" textLength="108.1" lengthAdjust="spacingAndGlyphs" stroke="#111" stroke-width="0.80" >Annexin V</text>
<path d="M239.0,406.8 C242.8,406.8 257.2,406.9 262.0,406.8 C266.8,406.7 266.3,406.6 268.0,406.0 C269.7,405.4 270.8,404.4 272.0,403.0 C273.2,401.6 274.3,399.8 275.5,397.5 C276.7,395.2 277.8,393.2 279.3,389.0 C280.8,384.8 282.6,379.0 284.3,372.0 C286.0,365.0 287.6,355.7 289.3,347.0 C291.0,338.3 292.9,327.3 294.3,320.0 C295.8,312.7 297.0,306.9 298.0,303.0 C299.0,299.1 299.7,297.9 300.3,296.5 C300.9,295.1 301.3,294.5 301.8,294.6 C302.3,294.7 302.7,295.1 303.3,297.0 C303.9,298.9 304.5,300.7 305.5,306.0 C306.5,311.3 308.1,321.5 309.3,329.0 C310.6,336.5 311.8,344.8 313.0,351.0 C314.2,357.2 315.6,362.2 316.8,366.0 C318.1,369.8 319.4,372.4 320.5,374.0 C321.6,375.6 322.4,376.0 323.3,375.3 C324.2,374.6 325.1,372.6 326.0,370.0 C326.9,367.4 327.7,364.2 328.5,360.0 C329.3,355.8 330.0,350.8 330.8,345.0 C331.6,339.2 332.3,331.8 333.2,325.0 C334.1,318.2 335.1,309.2 336.0,304.0 C336.9,298.8 338.1,295.7 338.8,293.5 C339.5,291.3 339.8,291.2 340.2,290.6 C340.6,290.0 340.8,289.8 341.1,289.8 C341.4,289.8 341.7,289.8 342.1,290.8 C342.5,291.8 342.9,293.3 343.5,296.0 C344.1,298.7 344.8,301.5 345.5,307.0 C346.2,312.5 347.1,320.0 348.0,329.0 C348.9,338.0 350.0,351.5 351.0,361.0 C352.0,370.5 353.0,379.7 353.8,386.0 C354.6,392.3 355.3,395.9 356.0,399.0 C356.7,402.1 357.3,403.2 358.0,404.5 C358.7,405.8 359.7,406.4 360.0,406.8 L360.0,408.5 L239.0,408.5 Z" fill="#cacaca" stroke="none"/>
<path d="M239.0,406.8 C242.8,406.8 257.2,406.9 262.0,406.8 C266.8,406.7 266.3,406.6 268.0,406.0 C269.7,405.4 270.8,404.4 272.0,403.0 C273.2,401.6 274.3,399.8 275.5,397.5 C276.7,395.2 277.8,393.2 279.3,389.0 C280.8,384.8 282.6,379.0 284.3,372.0 C286.0,365.0 287.6,355.7 289.3,347.0 C291.0,338.3 292.9,327.3 294.3,320.0 C295.8,312.7 297.0,306.9 298.0,303.0 C299.0,299.1 299.7,297.9 300.3,296.5 C300.9,295.1 301.3,294.5 301.8,294.6 C302.3,294.7 302.7,295.1 303.3,297.0 C303.9,298.9 304.5,300.7 305.5,306.0 C306.5,311.3 308.1,321.5 309.3,329.0 C310.6,336.5 311.8,344.8 313.0,351.0 C314.2,357.2 315.6,362.2 316.8,366.0 C318.1,369.8 319.4,372.4 320.5,374.0 C321.6,375.6 322.4,376.0 323.3,375.3 C324.2,374.6 325.1,372.6 326.0,370.0 C326.9,367.4 327.7,364.2 328.5,360.0 C329.3,355.8 330.0,350.8 330.8,345.0 C331.6,339.2 332.3,331.8 333.2,325.0 C334.1,318.2 335.1,309.2 336.0,304.0 C336.9,298.8 338.1,295.7 338.8,293.5 C339.5,291.3 339.8,291.2 340.2,290.6 C340.6,290.0 340.8,289.8 341.1,289.8 C341.4,289.8 341.7,289.8 342.1,290.8 C342.5,291.8 342.9,293.3 343.5,296.0 C344.1,298.7 344.8,301.5 345.5,307.0 C346.2,312.5 347.1,320.0 348.0,329.0 C348.9,338.0 350.0,351.5 351.0,361.0 C352.0,370.5 353.0,379.7 353.8,386.0 C354.6,392.3 355.3,395.9 356.0,399.0 C356.7,402.1 357.3,403.2 358.0,404.5 C358.7,405.8 359.7,406.4 360.0,406.8" fill="none" stroke="#111" stroke-width="4.0" stroke-linejoin="round" stroke-linecap="round"/>
<rect x="311.5" y="323.5" width="47.5" height="22.5" fill="#fff"/>
<path d="M318.8,351.3 H360.1 M320.2,346.0 V356.6" stroke="#111" stroke-width="3.3" fill="none"/>
<rect x="237.20" y="284.50" width="122.90" height="124.00" fill="none" stroke="#111" stroke-width="4.2"/>
<rect x="234.3" y="283.7" width="1.4" height="1.6" fill="#111"/>
<rect x="234.3" y="287.8" width="1.4" height="1.6" fill="#111"/>
<rect x="234.3" y="292.0" width="1.4" height="1.6" fill="#111"/>
<rect x="234.3" y="296.1" width="1.4" height="1.6" fill="#111"/>
<rect x="234.3" y="300.2" width="1.4" height="1.6" fill="#111"/>
<rect x="234.3" y="304.4" width="1.4" height="1.6" fill="#111"/>
<rect x="234.3" y="308.5" width="1.4" height="1.6" fill="#111"/>
<rect x="234.3" y="312.6" width="1.4" height="1.6" fill="#111"/>
<rect x="234.3" y="316.8" width="1.4" height="1.6" fill="#111"/>
<rect x="234.3" y="320.9" width="1.4" height="1.6" fill="#111"/>
<rect x="234.3" y="325.0" width="1.4" height="1.6" fill="#111"/>
<rect x="234.3" y="329.2" width="1.4" height="1.6" fill="#111"/>
<rect x="234.3" y="333.3" width="1.4" height="1.6" fill="#111"/>
<rect x="234.3" y="337.4" width="1.4" height="1.6" fill="#111"/>
<rect x="234.3" y="341.6" width="1.4" height="1.6" fill="#111"/>
<rect x="234.3" y="345.7" width="1.4" height="1.6" fill="#111"/>
<rect x="234.3" y="349.8" width="1.4" height="1.6" fill="#111"/>
<rect x="234.3" y="354.0" width="1.4" height="1.6" fill="#111"/>
<rect x="234.3" y="358.1" width="1.4" height="1.6" fill="#111"/>
<rect x="234.3" y="362.2" width="1.4" height="1.6" fill="#111"/>
<rect x="234.3" y="366.4" width="1.4" height="1.6" fill="#111"/>
<rect x="234.3" y="370.5" width="1.4" height="1.6" fill="#111"/>
<rect x="234.3" y="374.6" width="1.4" height="1.6" fill="#111"/>
<rect x="234.3" y="378.8" width="1.4" height="1.6" fill="#111"/>
<rect x="234.3" y="382.9" width="1.4" height="1.6" fill="#111"/>
<rect x="234.3" y="387.0" width="1.4" height="1.6" fill="#111"/>
<rect x="234.3" y="391.2" width="1.4" height="1.6" fill="#111"/>
<rect x="234.3" y="395.3" width="1.4" height="1.6" fill="#111"/>
<rect x="234.3" y="399.4" width="1.4" height="1.6" fill="#111"/>
<rect x="234.3" y="403.6" width="1.4" height="1.6" fill="#111"/>
<rect x="234.3" y="407.7" width="1.4" height="1.6" fill="#111"/>
<rect x="236.6" y="410.2" width="1.1" height="1.4" fill="#111"/>
<rect x="245.9" y="410.2" width="1.1" height="1.4" fill="#111"/>
<rect x="251.3" y="410.2" width="1.1" height="1.4" fill="#111"/>
<rect x="255.1" y="410.2" width="1.1" height="1.4" fill="#111"/>
<rect x="258.1" y="410.2" width="1.1" height="1.4" fill="#111"/>
<rect x="260.6" y="410.2" width="1.1" height="1.4" fill="#111"/>
<rect x="262.6" y="410.2" width="1.1" height="1.4" fill="#111"/>
<rect x="264.4" y="410.2" width="1.1" height="1.4" fill="#111"/>
<rect x="266.0" y="410.2" width="1.1" height="1.4" fill="#111"/>
<rect x="267.4" y="410.2" width="1.1" height="1.4" fill="#111"/>
<rect x="276.6" y="410.2" width="1.1" height="1.4" fill="#111"/>
<rect x="282.0" y="410.2" width="1.1" height="1.4" fill="#111"/>
<rect x="285.9" y="410.2" width="1.1" height="1.4" fill="#111"/>
<rect x="288.9" y="410.2" width="1.1" height="1.4" fill="#111"/>
<rect x="291.3" y="410.2" width="1.1" height="1.4" fill="#111"/>
<rect x="293.3" y="410.2" width="1.1" height="1.4" fill="#111"/>
<rect x="295.1" y="410.2" width="1.1" height="1.4" fill="#111"/>
<rect x="296.7" y="410.2" width="1.1" height="1.4" fill="#111"/>
<rect x="298.1" y="410.2" width="1.1" height="1.4" fill="#111"/>
<rect x="307.3" y="410.2" width="1.1" height="1.4" fill="#111"/>
<rect x="312.8" y="410.2" width="1.1" height="1.4" fill="#111"/>
<rect x="316.6" y="410.2" width="1.1" height="1.4" fill="#111"/>
<rect x="319.6" y="410.2" width="1.1" height="1.4" fill="#111"/>
<rect x="322.0" y="410.2" width="1.1" height="1.4" fill="#111"/>
<rect x="324.1" y="410.2" width="1.1" height="1.4" fill="#111"/>
<rect x="325.8" y="410.2" width="1.1" height="1.4" fill="#111"/>
<rect x="327.4" y="410.2" width="1.1" height="1.4" fill="#111"/>
<rect x="328.8" y="410.2" width="1.1" height="1.4" fill="#111"/>
<rect x="338.1" y="410.2" width="1.1" height="1.4" fill="#111"/>
<rect x="343.5" y="410.2" width="1.1" height="1.4" fill="#111"/>
<rect x="347.3" y="410.2" width="1.1" height="1.4" fill="#111"/>
<rect x="350.3" y="410.2" width="1.1" height="1.4" fill="#111"/>
<rect x="352.7" y="410.2" width="1.1" height="1.4" fill="#111"/>
<rect x="354.8" y="410.2" width="1.1" height="1.4" fill="#111"/>
<rect x="356.6" y="410.2" width="1.1" height="1.4" fill="#111"/>
<rect x="358.1" y="410.2" width="1.1" height="1.4" fill="#111"/>
<rect x="232.9" y="286.0" width="3.2" height="2.4" fill="#111"/>
<text x="233.2" y="289.5" font-size="6.3" font-weight="bold" text-anchor="end" fill="#1a1a1a">1000</text>
<rect x="232.9" y="309.8" width="3.2" height="2.4" fill="#111"/>
<text x="233.2" y="313.3" font-size="6.3" font-weight="bold" text-anchor="end" fill="#1a1a1a">800</text>
<rect x="232.9" y="334.2" width="3.2" height="2.4" fill="#111"/>
<text x="233.2" y="337.7" font-size="6.3" font-weight="bold" text-anchor="end" fill="#1a1a1a">600</text>
<rect x="232.9" y="358.6" width="3.2" height="2.4" fill="#111"/>
<text x="233.2" y="362.1" font-size="6.3" font-weight="bold" text-anchor="end" fill="#1a1a1a">400</text>
<rect x="232.9" y="382.6" width="3.2" height="2.4" fill="#111"/>
<text x="233.2" y="386.1" font-size="6.3" font-weight="bold" text-anchor="end" fill="#1a1a1a">200</text>
<rect x="232.9" y="406.3" width="3.2" height="2.4" fill="#111"/>
<text x="233.2" y="409.8" font-size="6.3" font-weight="bold" text-anchor="end" fill="#1a1a1a">0</text>
<text transform="translate(217.8,346.0) rotate(-90)" font-size="8.3" font-weight="bold" text-anchor="middle" fill="#1a1a1a">#&#160;Cells</text>
<text x="237.2" y="420.2" font-size="7.2" font-weight="bold" text-anchor="middle" fill="#1a1a1a" textLength="9.6" lengthAdjust="spacingAndGlyphs">10<tspan dy="-2.6" font-size="5">0</tspan></text>
<text x="267.9" y="420.2" font-size="7.2" font-weight="bold" text-anchor="middle" fill="#1a1a1a" textLength="9.6" lengthAdjust="spacingAndGlyphs">10<tspan dy="-2.6" font-size="5">1</tspan></text>
<text x="298.6" y="420.2" font-size="7.2" font-weight="bold" text-anchor="middle" fill="#1a1a1a" textLength="9.6" lengthAdjust="spacingAndGlyphs">10<tspan dy="-2.6" font-size="5">2</tspan></text>
<text x="329.4" y="420.2" font-size="7.2" font-weight="bold" text-anchor="middle" fill="#1a1a1a" textLength="9.6" lengthAdjust="spacingAndGlyphs">10<tspan dy="-2.6" font-size="5">3</tspan></text>
<text x="360.1" y="420.2" font-size="7.2" font-weight="bold" text-anchor="middle" fill="#1a1a1a" textLength="9.6" lengthAdjust="spacingAndGlyphs">10<tspan dy="-2.6" font-size="5">4</tspan></text>
<text x="240.4" y="309.8" font-size="25.60" text-anchor="start" font-weight="normal" textLength="55.3" lengthAdjust="spacingAndGlyphs" stroke="#111" stroke-width="0.80" >IL-2+</text>
<text x="312.3" y="343.4" font-size="25.00" text-anchor="start" font-weight="normal" textLength="46.0" lengthAdjust="spacingAndGlyphs" stroke="#111" stroke-width="0.80" >41.2</text>
<text x="244.1" y="436.3" font-size="23.00" text-anchor="start" font-weight="normal" textLength="108.0" lengthAdjust="spacingAndGlyphs" stroke="#111" stroke-width="0.80" >Annexin V</text>
<path d="M392.0,406.9 L420.0,406.9 L426.0,406.0 L431.0,403.5 L435.0,399.5 L438.5,394.0 L441.5,388.5 L444.0,383.0 L446.0,379.5 L447.3,374.0 L448.5,370.0 L449.6,371.0 L450.8,362.0 L451.8,356.0 L452.6,351.0 L453.4,357.0 L454.4,355.5 L455.5,361.0 L457.0,359.5 L458.5,363.0 L460.0,362.0 L461.5,366.0 L463.0,366.5 L464.5,372.0 L466.0,373.5 L468.0,378.0 L470.8,381.5 L473.0,383.0 L475.0,386.5 L477.0,388.0 L478.5,389.5 L480.5,385.0 L482.5,378.0 L485.0,366.0 L487.5,350.0 L490.0,333.0 L492.5,315.0 L495.0,302.0 L497.0,294.0 L498.8,288.0 L500.3,294.0 L501.8,304.0 L503.3,318.0 L505.0,341.0 L507.0,366.0 L508.8,386.0 L510.3,398.5 L511.8,404.0 L513.5,406.9 L513.5,408.8 L392.0,408.8 Z" fill="#cacaca" stroke="none"/>
<path d="M392.0,406.9 L420.0,406.9 L426.0,406.0 L431.0,403.5 L435.0,399.5 L438.5,394.0 L441.5,388.5 L444.0,383.0 L446.0,379.5 L447.3,374.0 L448.5,370.0 L449.6,371.0 L450.8,362.0 L451.8,356.0 L452.6,351.0 L453.4,357.0 L454.4,355.5 L455.5,361.0 L457.0,359.5 L458.5,363.0 L460.0,362.0 L461.5,366.0 L463.0,366.5 L464.5,372.0 L466.0,373.5 L468.0,378.0 L470.8,381.5 L473.0,383.0 L475.0,386.5 L477.0,388.0 L478.5,389.5 L480.5,385.0 L482.5,378.0 L485.0,366.0 L487.5,350.0 L490.0,333.0 L492.5,315.0 L495.0,302.0 L497.0,294.0 L498.8,288.0 L500.3,294.0 L501.8,304.0 L503.3,318.0 L505.0,341.0 L507.0,366.0 L508.8,386.0 L510.3,398.5 L511.8,404.0 L513.5,406.9" fill="none" stroke="#111" stroke-width="4.0" stroke-linejoin="round" stroke-linecap="round"/>
<rect x="463.0" y="322.5" width="48.5" height="23.5" fill="#fff"/>
<path d="M473.0,351.1 H514.5 M474.4,345.8 V356.4" stroke="#111" stroke-width="3.3" fill="none"/>
<rect x="390.60" y="284.70" width="123.90" height="124.10" fill="none" stroke="#111" stroke-width="4.2"/>
<rect x="387.7" y="283.9" width="1.4" height="1.6" fill="#111"/>
<rect x="387.7" y="288.0" width="1.4" height="1.6" fill="#111"/>
<rect x="387.7" y="292.2" width="1.4" height="1.6" fill="#111"/>
<rect x="387.7" y="296.3" width="1.4" height="1.6" fill="#111"/>
<rect x="387.7" y="300.4" width="1.4" height="1.6" fill="#111"/>
<rect x="387.7" y="304.6" width="1.4" height="1.6" fill="#111"/>
<rect x="387.7" y="308.7" width="1.4" height="1.6" fill="#111"/>
<rect x="387.7" y="312.9" width="1.4" height="1.6" fill="#111"/>
<rect x="387.7" y="317.0" width="1.4" height="1.6" fill="#111"/>
<rect x="387.7" y="321.1" width="1.4" height="1.6" fill="#111"/>
<rect x="387.7" y="325.3" width="1.4" height="1.6" fill="#111"/>
<rect x="387.7" y="329.4" width="1.4" height="1.6" fill="#111"/>
<rect x="387.7" y="333.5" width="1.4" height="1.6" fill="#111"/>
<rect x="387.7" y="337.7" width="1.4" height="1.6" fill="#111"/>
<rect x="387.7" y="341.8" width="1.4" height="1.6" fill="#111"/>
<rect x="387.7" y="345.9" width="1.4" height="1.6" fill="#111"/>
<rect x="387.7" y="350.1" width="1.4" height="1.6" fill="#111"/>
<rect x="387.7" y="354.2" width="1.4" height="1.6" fill="#111"/>
<rect x="387.7" y="358.4" width="1.4" height="1.6" fill="#111"/>
<rect x="387.7" y="362.5" width="1.4" height="1.6" fill="#111"/>
<rect x="387.7" y="366.6" width="1.4" height="1.6" fill="#111"/>
<rect x="387.7" y="370.8" width="1.4" height="1.6" fill="#111"/>
<rect x="387.7" y="374.9" width="1.4" height="1.6" fill="#111"/>
<rect x="387.7" y="379.0" width="1.4" height="1.6" fill="#111"/>
<rect x="387.7" y="383.2" width="1.4" height="1.6" fill="#111"/>
<rect x="387.7" y="387.3" width="1.4" height="1.6" fill="#111"/>
<rect x="387.7" y="391.5" width="1.4" height="1.6" fill="#111"/>
<rect x="387.7" y="395.6" width="1.4" height="1.6" fill="#111"/>
<rect x="387.7" y="399.7" width="1.4" height="1.6" fill="#111"/>
<rect x="387.7" y="403.9" width="1.4" height="1.6" fill="#111"/>
<rect x="387.7" y="408.0" width="1.4" height="1.6" fill="#111"/>
<rect x="390.1" y="410.5" width="1.1" height="1.4" fill="#111"/>
<rect x="399.4" y="410.5" width="1.1" height="1.4" fill="#111"/>
<rect x="404.8" y="410.5" width="1.1" height="1.4" fill="#111"/>
<rect x="408.7" y="410.5" width="1.1" height="1.4" fill="#111"/>
<rect x="411.7" y="410.5" width="1.1" height="1.4" fill="#111"/>
<rect x="414.2" y="410.5" width="1.1" height="1.4" fill="#111"/>
<rect x="416.2" y="410.5" width="1.1" height="1.4" fill="#111"/>
<rect x="418.0" y="410.5" width="1.1" height="1.4" fill="#111"/>
<rect x="419.6" y="410.5" width="1.1" height="1.4" fill="#111"/>
<rect x="421.0" y="410.5" width="1.1" height="1.4" fill="#111"/>
<rect x="430.3" y="410.5" width="1.1" height="1.4" fill="#111"/>
<rect x="435.8" y="410.5" width="1.1" height="1.4" fill="#111"/>
<rect x="439.7" y="410.5" width="1.1" height="1.4" fill="#111"/>
<rect x="442.7" y="410.5" width="1.1" height="1.4" fill="#111"/>
<rect x="445.1" y="410.5" width="1.1" height="1.4" fill="#111"/>
<rect x="447.2" y="410.5" width="1.1" height="1.4" fill="#111"/>
<rect x="449.0" y="410.5" width="1.1" height="1.4" fill="#111"/>
<rect x="450.6" y="410.5" width="1.1" height="1.4" fill="#111"/>
<rect x="452.0" y="410.5" width="1.1" height="1.4" fill="#111"/>
<rect x="461.3" y="410.5" width="1.1" height="1.4" fill="#111"/>
<rect x="466.8" y="410.5" width="1.1" height="1.4" fill="#111"/>
<rect x="470.6" y="410.5" width="1.1" height="1.4" fill="#111"/>
<rect x="473.7" y="410.5" width="1.1" height="1.4" fill="#111"/>
<rect x="476.1" y="410.5" width="1.1" height="1.4" fill="#111"/>
<rect x="478.2" y="410.5" width="1.1" height="1.4" fill="#111"/>
<rect x="480.0" y="410.5" width="1.1" height="1.4" fill="#111"/>
<rect x="481.6" y="410.5" width="1.1" height="1.4" fill="#111"/>
<rect x="483.0" y="410.5" width="1.1" height="1.4" fill="#111"/>
<rect x="492.3" y="410.5" width="1.1" height="1.4" fill="#111"/>
<rect x="497.8" y="410.5" width="1.1" height="1.4" fill="#111"/>
<rect x="501.6" y="410.5" width="1.1" height="1.4" fill="#111"/>
<rect x="504.6" y="410.5" width="1.1" height="1.4" fill="#111"/>
<rect x="507.1" y="410.5" width="1.1" height="1.4" fill="#111"/>
<rect x="509.2" y="410.5" width="1.1" height="1.4" fill="#111"/>
<rect x="510.9" y="410.5" width="1.1" height="1.4" fill="#111"/>
<rect x="512.5" y="410.5" width="1.1" height="1.4" fill="#111"/>
<rect x="386.3" y="314.1" width="3.2" height="2.4" fill="#111"/>
<text x="386.6" y="317.6" font-size="6.3" font-weight="bold" text-anchor="end" fill="#1a1a1a">600</text>
<rect x="386.3" y="344.6" width="3.2" height="2.4" fill="#111"/>
<text x="386.6" y="348.1" font-size="6.3" font-weight="bold" text-anchor="end" fill="#1a1a1a">400</text>
<rect x="386.3" y="375.6" width="3.2" height="2.4" fill="#111"/>
<text x="386.6" y="379.1" font-size="6.3" font-weight="bold" text-anchor="end" fill="#1a1a1a">200</text>
<rect x="386.3" y="406.3" width="3.2" height="2.4" fill="#111"/>
<text x="386.6" y="409.8" font-size="6.3" font-weight="bold" text-anchor="end" fill="#1a1a1a">0</text>
<text transform="translate(374.9,346.2) rotate(-90)" font-size="8.3" font-weight="bold" text-anchor="middle" fill="#1a1a1a">#&#160;Cells</text>
<text x="390.6" y="420.5" font-size="7.2" font-weight="bold" text-anchor="middle" fill="#1a1a1a" textLength="9.6" lengthAdjust="spacingAndGlyphs">10<tspan dy="-2.6" font-size="5">0</tspan></text>
<text x="421.6" y="420.5" font-size="7.2" font-weight="bold" text-anchor="middle" fill="#1a1a1a" textLength="9.6" lengthAdjust="spacingAndGlyphs">10<tspan dy="-2.6" font-size="5">1</tspan></text>
<text x="452.6" y="420.5" font-size="7.2" font-weight="bold" text-anchor="middle" fill="#1a1a1a" textLength="9.6" lengthAdjust="spacingAndGlyphs">10<tspan dy="-2.6" font-size="5">2</tspan></text>
<text x="483.5" y="420.5" font-size="7.2" font-weight="bold" text-anchor="middle" fill="#1a1a1a" textLength="9.6" lengthAdjust="spacingAndGlyphs">10<tspan dy="-2.6" font-size="5">3</tspan></text>
<text x="514.5" y="420.5" font-size="7.2" font-weight="bold" text-anchor="middle" fill="#1a1a1a" textLength="9.6" lengthAdjust="spacingAndGlyphs">10<tspan dy="-2.6" font-size="5">4</tspan></text>
<text x="428.0" y="310.0" font-size="25.20" text-anchor="start" font-weight="normal" textLength="48.5" lengthAdjust="spacingAndGlyphs" stroke="#111" stroke-width="0.80" >IL-2-</text>
<text x="464.0" y="343.6" font-size="25.00" text-anchor="start" font-weight="normal" textLength="46.5" lengthAdjust="spacingAndGlyphs" stroke="#111" stroke-width="0.80" >61.7</text>
<text x="396.4" y="436.3" font-size="23.00" text-anchor="start" font-weight="normal" textLength="108.6" lengthAdjust="spacingAndGlyphs" stroke="#111" stroke-width="0.80" >Annexin V</text>
<rect x="157.8" y="645.2" width="40.6" height="45.0" fill="#c5c5c5" stroke="#111" stroke-width="4.1"/>
<rect x="208.6" y="558.0" width="40.2" height="132.2" fill="#c5c5c5" stroke="#111" stroke-width="4.1"/>
<rect x="259.4" y="507.4" width="39.4" height="182.8" fill="#c5c5c5" stroke="#111" stroke-width="4.1"/>
<rect x="360.6" y="664.8" width="40.1" height="25.4" fill="#c5c5c5" stroke="#111" stroke-width="4.1"/>
<rect x="411.7" y="610.0" width="40.1" height="80.2" fill="#c5c5c5" stroke="#111" stroke-width="4.1"/>
<rect x="462.4" y="539.0" width="40.1" height="151.2" fill="#c5c5c5" stroke="#111" stroke-width="4.1"/>
<path d="M177.9,636.2 V653.6 M171.5,637.6 H184.3 M171.5,652.2 H184.3" stroke="#111" stroke-width="3.3" fill="none"/>
<path d="M229.2,535.6 V582.0 M222.8,537.0 H235.6 M222.8,580.6 H235.6" stroke="#111" stroke-width="3.3" fill="none"/>
<path d="M279.2,475.6 V538.6 M272.8,477.0 H285.6 M272.8,537.2 H285.6" stroke="#111" stroke-width="3.3" fill="none"/>
<path d="M380.4,654.5 V673.2 M374.0,655.9 H386.8 M374.0,671.8 H386.8" stroke="#111" stroke-width="3.3" fill="none"/>
<path d="M432.3,595.2 V625.0 M425.9,596.6 H438.7 M425.9,623.6 H438.7" stroke="#111" stroke-width="3.3" fill="none"/>
<path d="M483.5,521.8 V557.2 M477.1,523.2 H489.9 M477.1,555.8 H489.9" stroke="#111" stroke-width="3.3" fill="none"/>
<rect x="150.6" y="475.3" width="4.3" height="216" fill="#111"/>
<rect x="152" y="664.9" width="8.6" height="3.2" fill="#111"/>
<rect x="152" y="641.3" width="8.6" height="3.2" fill="#111"/>
<rect x="152" y="617.6" width="8.6" height="3.2" fill="#111"/>
<rect x="152" y="593.9" width="8.6" height="3.2" fill="#111"/>
<rect x="152" y="570.3" width="8.6" height="3.2" fill="#111"/>
<rect x="152" y="546.6" width="8.6" height="3.2" fill="#111"/>
<rect x="152" y="522.9" width="8.6" height="3.2" fill="#111"/>
<rect x="152" y="499.3" width="8.6" height="3.2" fill="#111"/>
<rect x="152" y="475.6" width="8.6" height="3.2" fill="#111"/>
<text x="123.0" y="484.1" font-size="25.40" text-anchor="start" font-weight="normal" textLength="26.4" lengthAdjust="spacingAndGlyphs" stroke="#111" stroke-width="0.90" >90</text>
<text x="123.0" y="531.4" font-size="25.40" text-anchor="start" font-weight="normal" textLength="26.4" lengthAdjust="spacingAndGlyphs" stroke="#111" stroke-width="0.90" >70</text>
<text x="123.0" y="578.8" font-size="25.40" text-anchor="start" font-weight="normal" textLength="26.4" lengthAdjust="spacingAndGlyphs" stroke="#111" stroke-width="0.90" >50</text>
<text x="123.0" y="626.1" font-size="25.40" text-anchor="start" font-weight="normal" textLength="26.4" lengthAdjust="spacingAndGlyphs" stroke="#111" stroke-width="0.90" >30</text>
<text x="123.0" y="673.4" font-size="25.40" text-anchor="start" font-weight="normal" textLength="26.4" lengthAdjust="spacingAndGlyphs" stroke="#111" stroke-width="0.90" >10</text>
<text x="135.8" y="696.0" font-size="25.40" text-anchor="start" font-weight="normal" textLength="13.2" lengthAdjust="spacingAndGlyphs" stroke="#111" stroke-width="0.90" >0</text>
<g transform="translate(113.6,685.6) rotate(-90)">
<text x="0.0" y="0.0" font-size="23.40" text-anchor="start" font-weight="normal" textLength="107.8" lengthAdjust="spacingAndGlyphs" stroke="#111" stroke-width="0.90" >Annexin V</text>
<path d="M110.4,-21.2 H120 M115.2,-26 V-16.4" stroke="#111" stroke-width="2.6" fill="none"/>
<text x="128.4" y="0.0" font-size="23.40" text-anchor="start" font-weight="normal" textLength="90.2" lengthAdjust="spacingAndGlyphs" stroke="#111" stroke-width="0.90" >cells (%)</text>
</g>
<text x="478.0" y="483.7" font-size="25.00" text-anchor="start" font-weight="normal" textLength="40.2" lengthAdjust="spacingAndGlyphs" stroke="#111" stroke-width="1.00" >n=7</text>
<path d="M280.4,565.9 V561.4 H485.4 V565.9" stroke="#111" stroke-width="3.9" fill="none" stroke-linejoin="miter"/>
<text x="335.4" y="553.8" font-size="24.30" text-anchor="start" font-weight="normal" textLength="98.5" lengthAdjust="spacingAndGlyphs" stroke="#111" stroke-width="0.80" >*P=0.033</text>
<rect x="300.8" y="565" width="95" height="18" fill="#fff"/>
<path d="M228.6,589.9 V585.4 H432.3 V589.9" stroke="#111" stroke-width="3.9" fill="none" stroke-linejoin="miter"/>
<text x="300.2" y="583.3" font-size="24.30" text-anchor="start" font-weight="normal" textLength="94.5" lengthAdjust="spacingAndGlyphs" stroke="#111" stroke-width="0.80" >*P&lt;0.001</text>
<path d="M178.6,630.7 V626.2 H381.5 V630.7" stroke="#111" stroke-width="3.9" fill="none" stroke-linejoin="miter"/>
<rect x="232.3" y="600" width="98.7" height="21.6" fill="#fff"/>
<text x="233.8" y="619.3" font-size="24.30" text-anchor="start" font-weight="normal" textLength="95.6" lengthAdjust="spacingAndGlyphs" stroke="#111" stroke-width="0.80" >*P=0.001</text>
<rect x="202.8" y="642.6" width="97" height="20.6" fill="#fff"/>
<text x="204.2" y="660.8" font-size="24.00" text-anchor="start" font-weight="normal" textLength="95.0" lengthAdjust="spacingAndGlyphs" stroke="#111" stroke-width="0.80" >*P&lt;0.001</text>
<path d="M227.8,671.9 V666.7 H279.2 V671.9" stroke="#111" stroke-width="3.9" fill="none" stroke-linejoin="miter"/>
<rect x="419.2" y="629.2" width="101" height="21.2" fill="#fff"/>
<text x="420.2" y="648.4" font-size="24.60" text-anchor="start" font-weight="normal" textLength="96.0" lengthAdjust="spacingAndGlyphs" stroke="#111" stroke-width="0.80" >*P&lt;0.001</text>
<path d="M432.3,660.2 V655.0 H484.6 V660.2" stroke="#111" stroke-width="3.9" fill="none" stroke-linejoin="miter"/>
<rect x="151" y="688.3" width="359.6" height="3.9" fill="#111"/>
<rect x="151" y="709.0" width="359.6" height="3.9" fill="#111"/>
<rect x="151" y="728.9" width="359.6" height="3.9" fill="#111"/>
<rect x="150.7" y="690.0" width="4.0" height="42.8" fill="#111"/>
<rect x="201.6" y="685.2" width="4.0" height="47.6" fill="#111"/>
<rect x="252.2" y="685.2" width="4.0" height="47.6" fill="#111"/>
<rect x="303.2" y="685.2" width="4.0" height="47.6" fill="#111"/>
<rect x="354.4" y="685.2" width="4.0" height="47.6" fill="#111"/>
<rect x="405.6" y="685.2" width="4.0" height="47.6" fill="#111"/>
<rect x="455.7" y="685.2" width="4.0" height="47.6" fill="#111"/>
<rect x="506.6" y="685.2" width="4.0" height="47.6" fill="#111"/>
<path d="M172.2,700.0 H183.8 M178.0,694.2 V705.8" stroke="#111" stroke-width="2.7" fill="none"/>
<rect x="173.8" y="719.4" width="8.4" height="2.7" fill="#111"/>
<path d="M223.7,700.0 H235.3 M229.5,694.2 V705.8" stroke="#111" stroke-width="2.7" fill="none"/>
<path d="M223.7,720.8 H235.3 M229.5,715.0 V726.6" stroke="#111" stroke-width="2.7" fill="none"/>
<rect x="275.8" y="697.9" width="8.4" height="2.7" fill="#111"/>
<path d="M274.2,720.8 H285.8 M280.0,715.0 V726.6" stroke="#111" stroke-width="2.7" fill="none"/>
<path d="M371.6,700.0 H383.2 M377.4,694.2 V705.8" stroke="#111" stroke-width="2.7" fill="none"/>
<rect x="373.2" y="719.4" width="8.4" height="2.7" fill="#111"/>
<path d="M423.5,700.0 H435.1 M429.3,694.2 V705.8" stroke="#111" stroke-width="2.7" fill="none"/>
<path d="M423.5,720.8 H435.1 M429.3,715.0 V726.6" stroke="#111" stroke-width="2.7" fill="none"/>
<rect x="479.4" y="697.9" width="8.4" height="2.7" fill="#111"/>
<path d="M477.8,720.8 H489.4 M483.6,715.0 V726.6" stroke="#111" stroke-width="2.7" fill="none"/>
<text x="97.2" y="712.0" font-size="24.80" text-anchor="start" font-weight="normal" textLength="40.6" lengthAdjust="spacingAndGlyphs" stroke="#111" stroke-width="0.90" >IL-2</text>
<text x="42.8" y="731.5" font-size="24.20" text-anchor="start" font-weight="normal" textLength="105.4" lengthAdjust="spacingAndGlyphs" stroke="#111" stroke-width="0.90" >Stimulation</text>
<text x="186.2" y="753.3" font-size="24.60" text-anchor="start" font-weight="normal" textLength="77.6" lengthAdjust="spacingAndGlyphs" stroke="#111" stroke-width="0.90" >CXCR1</text>
<path d="M266.2,738.9 H275.8 M271,734 V743.8" stroke="#111" stroke-width="2.5" fill="none"/>
<text x="389.6" y="753.3" font-size="24.60" text-anchor="start" font-weight="normal" textLength="77.2" lengthAdjust="spacingAndGlyphs" stroke="#111" stroke-width="0.90" >CXCR1</text>
<rect x="468.6" y="739.4" width="8.4" height="2.3" fill="#111"/>
</svg></body></html>
